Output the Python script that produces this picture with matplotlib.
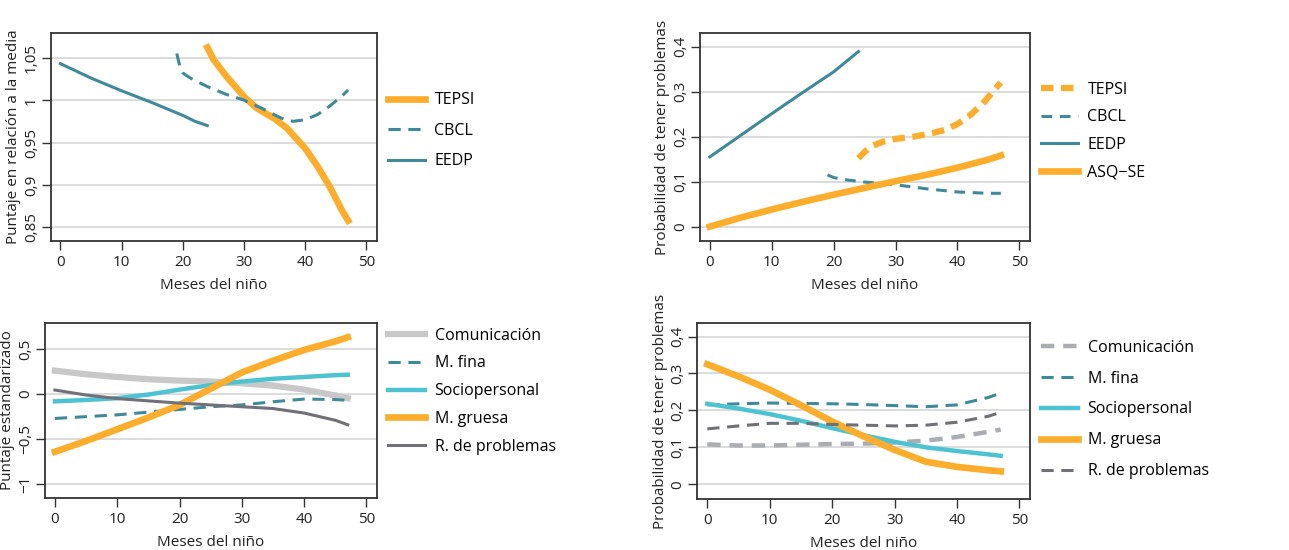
import matplotlib
matplotlib.use("Agg")
import matplotlib.pyplot as plt

plt.rcParams['font.family'] = ['Open Sans', 'DejaVu Sans']

NARANJA = '#fbad2b'
VERDE = '#3e8a9c'
CIAN = '#4dc3d1'
GRIS_CLARO = '#c8c8c8'
GRIS_MEDIO = '#aaaeb3'
GRIS_OSCURO = '#707078'

# panel 1: puntaje en relacion a la media
p1_eedp_x = [0, 5, 10, 15, 20, 22, 24]
p1_eedp_y = [1.043, 1.026, 1.011, 0.997, 0.982, 0.975, 0.970]
p1_cbcl_x = [19, 19.5, 20, 21, 22, 24, 27, 30, 33, 36, 38, 40, 42, 44, 46, 47]
p1_cbcl_y = [1.055, 1.040, 1.032, 1.027, 1.023, 1.016, 1.007, 1.000, 0.990, 0.979,
             0.975, 0.977, 0.983, 0.993, 1.005, 1.012]
p1_tepsi_x = [24, 25, 27, 30, 32, 35, 37, 40, 42, 44, 46, 47]
p1_tepsi_y = [1.062, 1.048, 1.029, 1.004, 0.991, 0.978, 0.967, 0.943, 0.922, 0.898, 0.870, 0.858]

# panel 2: probabilidad de tener problemas
p2_eedp_x = [0, 5, 10, 15, 20, 24]
p2_eedp_y = [0.155, 0.203, 0.251, 0.298, 0.344, 0.389]
p2_tepsi_x = [24, 25, 26, 28, 30, 33, 36, 38, 40, 42, 44, 45, 46, 47]
p2_tepsi_y = [0.152, 0.166, 0.178, 0.189, 0.195, 0.200, 0.208, 0.215, 0.228, 0.247,
              0.272, 0.288, 0.305, 0.320]
p2_cbcl_x = [19, 20, 22, 25, 30, 35, 40, 45, 47]
p2_cbcl_y = [0.115, 0.109, 0.104, 0.099, 0.093, 0.084, 0.077, 0.074, 0.074]
p2_asq_x = [0, 5, 10, 15, 20, 25, 30, 35, 40, 45, 47]
p2_asq_y = [0.0, 0.020, 0.038, 0.055, 0.071, 0.086, 0.101, 0.115, 0.131, 0.149, 0.158]

# panel 3: puntaje estandarizado
meses = [0, 5, 10, 15, 20, 25, 30, 35, 40, 45, 47]
p3_comunicacion = [0.26, 0.22, 0.19, 0.165, 0.15, 0.14, 0.12, 0.095, 0.05, -0.015, -0.045]
p3_fina = [-0.27, -0.25, -0.23, -0.20, -0.17, -0.14, -0.12, -0.085, -0.055, -0.06, -0.07]
p3_socio = [-0.08, -0.065, -0.045, -0.005, 0.05, 0.10, 0.14, 0.17, 0.19, 0.21, 0.215]
p3_gruesa = [-0.64, -0.52, -0.39, -0.26, -0.12, 0.06, 0.24, 0.37, 0.49, 0.585, 0.63]
p3_resolucion = [0.045, -0.01, -0.05, -0.075, -0.10, -0.12, -0.14, -0.16, -0.21, -0.29, -0.34]

# panel 4: probabilidad de tener problemas por area
p4_comunicacion = [0.108, 0.105, 0.105, 0.107, 0.109, 0.110, 0.113, 0.118, 0.128, 0.142, 0.148]
p4_fina = [0.215, 0.218, 0.220, 0.219, 0.218, 0.216, 0.213, 0.210, 0.215, 0.235, 0.247]
p4_socio = [0.218, 0.205, 0.190, 0.172, 0.152, 0.133, 0.115, 0.100, 0.090, 0.081, 0.077]
p4_gruesa = [0.325, 0.292, 0.256, 0.214, 0.170, 0.130, 0.093, 0.061, 0.047, 0.038, 0.035]
p4_resolucion = [0.150, 0.158, 0.165, 0.165, 0.162, 0.160, 0.158, 0.160, 0.168, 0.184, 0.195]

x_ticks = [0, 10, 20, 30, 40, 50]

fig = plt.figure(figsize=(12.89, 5.5), dpi=100)
ax1 = fig.add_axes([0.0393, 0.5618, 0.2531, 0.378])
ax2 = fig.add_axes([0.5430, 0.5618, 0.2560, 0.378])
ax3 = fig.add_axes([0.0349, 0.0951, 0.2576, 0.317])
ax4 = fig.add_axes([0.5410, 0.0927, 0.2581, 0.3195])


def estilo(ax, ylim, yticks, ylabels, ylabel):
    ax.set_xlim(-1.6, 51.7)
    ax.set_ylim(*ylim)
    ax.set_xticks(x_ticks)
    ax.set_yticks(yticks)
    ax.set_yticklabels(ylabels, rotation=90, va='center')
    ax.grid(axis='y', color='#d9d9d9', linewidth=1.3)
    ax.set_axisbelow(True)
    for s in ax.spines.values():
        s.set_color('#333333')
        s.set_linewidth(1.3)
    ax.tick_params(direction='out', length=6.5, width=1, color='#333333',
                   labelsize=11, labelcolor='#222222', pad=2)
    ax.tick_params(axis='x', pad=3.5)
    ax.set_xlabel('Meses del niño', fontsize=11, color='#222222', labelpad=6)
    ax.set_ylabel(ylabel, fontsize=11, color='#222222', labelpad=2)


def leyenda(ax, y0, spacing):
    ax.legend(loc='upper left', bbox_to_anchor=(1.0, y0), frameon=False,
              fontsize=11.5, handlelength=2.3, handletextpad=0.6,
              labelspacing=spacing, borderaxespad=0.3)


# panel 1
ax1.plot(p1_tepsi_x, p1_tepsi_y, color=NARANJA, lw=4.8, label='TEPSI')
ax1.plot(p1_cbcl_x, p1_cbcl_y, color=VERDE, lw=2.2, ls=(0, (4, 2.5)), label='CBCL')
ax1.plot(p1_eedp_x, p1_eedp_y, color=VERDE, lw=2.2, label='EEDP')
estilo(ax1, (0.834, 1.079), [0.85, 0.9, 0.95, 1.0, 1.05],
       ['0,85', '0,9', '0,95', '1', '1,05'], 'Puntaje en relación a la media')
leyenda(ax1, 0.77, 0.92)

# panel 2
ax2.plot(p2_tepsi_x, p2_tepsi_y, color=NARANJA, lw=4.5, ls=(0, (2, 1.2)), label='TEPSI')
ax2.plot(p2_cbcl_x, p2_cbcl_y, color=VERDE, lw=2.2, ls=(0, (3.5, 2.5)), label='CBCL')
ax2.plot(p2_eedp_x, p2_eedp_y, color=VERDE, lw=2.2, label='EEDP')
ax2.plot(p2_asq_x, p2_asq_y, color=NARANJA, lw=4.8, label='ASQ−SE')
estilo(ax2, (-0.032, 0.43), [0, 0.1, 0.2, 0.3, 0.4],
       ['0', '0,1', '0,2', '0,3', '0,4'], 'Probabilidad de tener problemas')
leyenda(ax2, 0.82, 0.72)

# panel 3
ax3.plot(meses, p3_comunicacion, color=GRIS_CLARO, lw=4.5, label='Comunicación')
ax3.plot(meses, p3_fina, color=VERDE, lw=2.2, ls=(0, (4, 2.5)), label='M. fina')
ax3.plot(meses, p3_socio, color=CIAN, lw=3.2, label='Sociopersonal')
ax3.plot(meses, p3_gruesa, color=NARANJA, lw=4.8, label='M. gruesa')
ax3.plot(meses, p3_resolucion, color=GRIS_OSCURO, lw=2.2, label='R. de problemas')
estilo(ax3, (-1.149, 0.785), [-1, -0.5, 0, 0.5],
       ['−1', '−0,5', '0', '0,5'], 'Puntaje estandarizado')
leyenda(ax3, 1.04, 0.74)

# panel 4
ax4.plot(meses, p4_comunicacion, color=GRIS_MEDIO, lw=3.2, ls=(0, (3, 2)), label='Comunicación')
ax4.plot(meses, p4_fina, color=VERDE, lw=2.2, ls=(0, (4, 2.5)), label='M. fina')
ax4.plot(meses, p4_socio, color=CIAN, lw=3.2, label='Sociopersonal')
ax4.plot(meses, p4_gruesa, color=NARANJA, lw=4.8, label='M. gruesa')
ax4.plot(meses, p4_resolucion, color=GRIS_OSCURO, lw=2.2, ls=(0, (4, 2.5)), label='R. de problemas')
estilo(ax4, (-0.04, 0.436), [0, 0.1, 0.2, 0.3, 0.4],
       ['0', '0,1', '0,2', '0,3', '0,4'], 'Probabilidad de tener problemas')
leyenda(ax4, 0.97, 0.93)

fig.savefig('out.png', dpi=100)
